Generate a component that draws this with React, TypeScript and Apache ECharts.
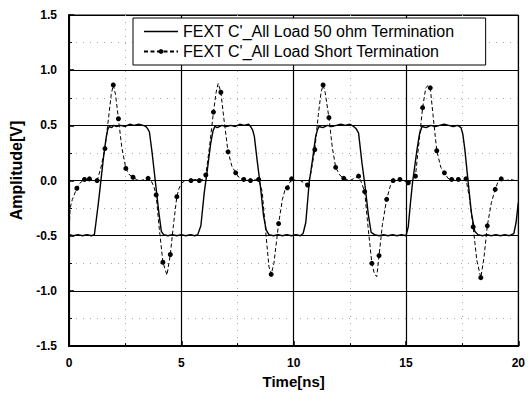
import React, { useEffect, useRef } from "react";
import * as echarts from "echarts";

const seriesNames = [
  "FEXT C'_All Load 50 ohm Termination",
  "FEXT C'_All Load Short Termination",
];

const xAxisTitle = "Time[ns]";
const yAxisTitle = "Amplitude[V]";
const xRange = [0, 20];
const xStep = 5;
const yRange = [-1.5, 1.5];
const yStep = 0.5;

// 50 ohm termination: [time ns, amplitude V]
const load50Ohm: [number, number][] = [
  [0, -0.49], [0.2, -0.5], [0.4, -0.49], [0.6, -0.5], [0.8, -0.49], [1.0, -0.5], [1.13, -0.49],
  [1.2, -0.38], [1.31, -0.2], [1.42, 0], [1.53, 0.2], [1.64, 0.37], [1.72, 0.46], [1.79, 0.49],
  [1.9, 0.48], [2.0, 0.5], [2.1, 0.49], [2.3, 0.5], [2.5, 0.49], [2.7, 0.51], [2.9, 0.5],
  [3.1, 0.51], [3.3, 0.5], [3.42, 0.49], [3.5, 0.47], [3.58, 0.44], [3.7, 0.25], [3.85, -0.02],
  [4.0, -0.29], [4.11, -0.46], [4.21, -0.49], [4.4, -0.5], [4.6, -0.49], [4.8, -0.5], [5.0, -0.49],
  [5.2, -0.5], [5.4, -0.49], [5.6, -0.5], [5.73, -0.49],
  [5.87, -0.41], [6.02, -0.11], [6.14, 0.07], [6.31, 0.34], [6.41, 0.45], [6.49, 0.49],
  [6.6, 0.48], [6.8, 0.5], [7.0, 0.49], [7.2, 0.5], [7.4, 0.49], [7.6, 0.51], [7.8, 0.5],
  [8.0, 0.51], [8.08, 0.49], [8.17, 0.46], [8.25, 0.4], [8.37, 0.19], [8.52, -0.05], [8.66, -0.32],
  [8.78, -0.45], [8.9, -0.49], [9.1, -0.5], [9.3, -0.49], [9.5, -0.5], [9.7, -0.49], [9.9, -0.5],
  [10.1, -0.49], [10.3, -0.5], [10.42, -0.48],
  [10.54, -0.38], [10.69, -0.02], [10.84, 0.19], [10.98, 0.4], [11.06, 0.46], [11.13, 0.49],
  [11.3, 0.48], [11.5, 0.5], [11.7, 0.49], [11.9, 0.5], [12.1, 0.51], [12.3, 0.5], [12.5, 0.51],
  [12.67, 0.49], [12.78, 0.47], [12.89, 0.43], [13.04, 0.16], [13.19, -0.07], [13.33, -0.32],
  [13.45, -0.47], [13.6, -0.49], [13.8, -0.5], [14.0, -0.49], [14.2, -0.5], [14.4, -0.49],
  [14.6, -0.5], [14.8, -0.49], [15.0, -0.5],
  [15.1, -0.42], [15.2, -0.2], [15.29, -0.02], [15.49, 0.28], [15.6, 0.42], [15.71, 0.49],
  [15.9, 0.48], [16.1, 0.5], [16.3, 0.49], [16.5, 0.5], [16.7, 0.51], [16.9, 0.5], [17.1, 0.49],
  [17.3, 0.5], [17.45, 0.48], [17.53, 0.42], [17.62, 0.28], [17.77, -0.02], [17.91, -0.29],
  [18.06, -0.46], [18.2, -0.49], [18.4, -0.5], [18.6, -0.49], [18.8, -0.5], [19.0, -0.49],
  [19.2, -0.5], [19.4, -0.49], [19.6, -0.5], [19.8, -0.48], [19.9, -0.38], [20, -0.2],
];

// Short termination: [time ns, amplitude V, marker shown (1) or not (0)]
const loadShort: [number, number, number][] = [
  [0, -0.48, 0], [0.05, -0.25, 0], [0.15, -0.17, 0], [0.35, -0.07, 1], [0.5, -0.02, 0],
  [0.69, 0.01, 1], [0.8, 0.0, 0], [0.91, 0.015, 1], [1.05, 0.0, 0], [1.25, 0.0, 1],
  [1.4, 0.1, 0], [1.6, 0.29, 1], [1.75, 0.55, 0], [1.88, 0.78, 0], [1.97, 0.866, 1],
  [2.07, 0.78, 0], [2.2, 0.56, 1], [2.35, 0.3, 0], [2.53, 0.11, 1], [2.7, 0.05, 0],
  [2.85, 0.03, 1], [3.0, 0.01, 0], [3.2, 0.0, 0], [3.35, 0.01, 0], [3.52, 0.02, 1],
  [3.65, 0.0, 0], [3.77, -0.05, 0], [3.88, -0.13, 1], [4.0, -0.4, 0], [4.18, -0.74, 1],
  [4.36, -0.857, 0], [4.51, -0.67, 1], [4.65, -0.4, 0], [4.8, -0.146, 1], [4.9, -0.07, 0],
  [5.02, -0.02, 0],
  [5.2, 0.0, 0], [5.43, 0.0, 1], [5.6, 0.01, 0], [5.8, 0.0, 1], [5.95, 0.01, 0],
  [6.09, 0.05, 1], [6.25, 0.3, 0], [6.43, 0.62, 1], [6.55, 0.8, 0], [6.64, 0.88, 0],
  [6.76, 0.8, 1], [6.9, 0.55, 0], [7.08, 0.26, 1], [7.25, 0.13, 0], [7.42, 0.07, 1],
  [7.6, 0.02, 0], [7.78, 0.01, 1], [8.08, 0.0, 1], [8.44, 0.01, 1], [8.6, -0.1, 0],
  [8.75, -0.45, 0], [8.9, -0.78, 0], [9.0, -0.85, 1], [9.12, -0.75, 0], [9.33, -0.39, 1],
  [9.5, -0.17, 0], [9.62, -0.08, 0], [9.72, -0.066, 1], [9.91, 0.015, 1],
  [10.1, 0.0, 0], [10.3, 0.0, 0], [10.45, -0.02, 0], [10.62, -0.04, 1], [10.75, 0.05, 0],
  [10.94, 0.28, 1], [11.1, 0.6, 0], [11.22, 0.8, 0], [11.31, 0.866, 1], [11.4, 0.8, 0],
  [11.57, 0.57, 1], [11.72, 0.3, 0], [11.87, 0.12, 1], [12.05, 0.05, 0], [12.23, 0.02, 1],
  [12.5, 0.0, 0], [12.7, 0.02, 0], [12.89, 0.04, 1], [13.02, -0.02, 0], [13.16, -0.1, 1],
  [13.3, -0.4, 0], [13.48, -0.75, 1], [13.6, -0.85, 0], [13.7, -0.87, 0], [13.8, -0.68, 1],
  [13.95, -0.4, 0], [14.14, -0.17, 1], [14.3, -0.05, 0], [14.43, 0.0, 1], [14.6, 0.0, 0],
  [14.73, 0.01, 1], [14.9, 0.0, 0], [15.1, -0.02, 1],
  [15.25, 0.0, 0], [15.42, 0.04, 1], [15.58, 0.35, 0], [15.74, 0.66, 1], [15.88, 0.84, 0],
  [15.98, 0.86, 0], [16.08, 0.84, 1], [16.2, 0.6, 0], [16.37, 0.27, 1], [16.55, 0.12, 0],
  [16.71, 0.07, 1], [16.87, 0.02, 0], [17.03, 0.01, 1], [17.2, 0.0, 0], [17.33, 0.01, 1],
  [17.5, 0.0, 0], [17.67, 0.015, 1], [17.82, -0.15, 0], [17.99, -0.42, 1], [18.15, -0.72, 0],
  [18.33, -0.88, 1], [18.47, -0.7, 0], [18.62, -0.41, 1], [18.8, -0.2, 0], [18.97, -0.08, 1],
  [19.1, -0.01, 0], [19.24, 0.015, 1], [19.45, 0.0, 0], [19.65, 0.01, 0], [19.85, 0.0, 0],
  [20, 0.0, 0],
];

const FONT = "'Liberation Sans', Arial, Helvetica, sans-serif";

export default function App() {
  const ref = useRef<HTMLDivElement>(null);

  useEffect(() => {
    if (!ref.current) return;
    const chart = echarts.init(ref.current, null, { renderer: "svg" });

    const axisCommon = {
      type: "value" as const,
      axisLine: { show: true, onZero: false, lineStyle: { color: "#000", width: 2 } },
      axisTick: { show: true, inside: true, length: 5, lineStyle: { color: "#000", width: 1.5 } },
      minorTick: { show: true, splitNumber: 2, length: 3, lineStyle: { color: "#000", width: 1 } },
      splitLine: { show: true, lineStyle: { color: "#000", width: 1.2 } },
      minorSplitLine: { show: true, lineStyle: { color: "#aaa", width: 1, type: [1, 6] } },
      nameLocation: "middle" as const,
    };

    chart.setOption({
      animation: false,
      backgroundColor: "#fff",
      textStyle: { fontFamily: FONT },
      grid: {
        left: 66,
        right: 7,
        top: 15,
        bottom: 44,
        show: true,
        borderColor: "#000",
        borderWidth: 1,
      },
      legend: {
        orient: "vertical",
        left: 133,
        top: 18,
        backgroundColor: "#fff",
        borderColor: "#000",
        borderWidth: 1,
        borderRadius: 0,
        padding: [4.5, 31, 4.5, 10],
        itemWidth: 34,
        itemHeight: 6,
        itemGap: 2,
        symbolKeepAspect: true,
        textStyle: { fontFamily: FONT, fontSize: 16, color: "#000", lineHeight: 18 },
        data: [
          { name: seriesNames[0], icon: "path://M0,0h34v1.3h-34z" },
          { name: seriesNames[1] },
        ],
        z: 10,
      },
      xAxis: {
        ...axisCommon,
        min: xRange[0],
        max: xRange[1],
        interval: xStep,
        name: xAxisTitle,
        nameGap: 27,
        nameTextStyle: { fontFamily: FONT, fontSize: 15, fontWeight: "bold", color: "#000" },
        axisLabel: {
          fontFamily: FONT,
          fontSize: 12,
          fontWeight: "bold",
          color: "#000",
          margin: 11,
          formatter: (v: number) => String(v),
        },
      },
      yAxis: {
        ...axisCommon,
        min: yRange[0],
        max: yRange[1],
        interval: yStep,
        name: yAxisTitle,
        nameGap: 45,
        nameTextStyle: {
          fontFamily: FONT,
          fontSize: 16,
          fontWeight: "bold",
          color: "#000",
          padding: [0, 0, 0, 20],
        },
        axisLabel: {
          fontFamily: FONT,
          fontSize: 12,
          fontWeight: "bold",
          color: "#000",
          margin: 12,
          formatter: (v: number) => v.toFixed(1),
        },
      },
      series: [
        {
          name: seriesNames[0],
          type: "line",
          symbol: "none",
          showSymbol: false,
          lineStyle: { color: "#000", width: 1.4 },
          itemStyle: { color: "#000" },
          data: load50Ohm,
          z: 3,
        },
        {
          name: seriesNames[1],
          type: "line",
          symbol: "circle",
          symbolSize: 5,
          showSymbol: true,
          showAllSymbol: true,
          lineStyle: { color: "#000", width: 1, type: [4, 2.5] },
          itemStyle: { color: "#000" },
          data: loadShort.map(([t, v, m]) => ({
            value: [t, v],
            symbol: m ? "circle" : "none",
          })),
          z: 4,
        },
      ],
    });

    return () => chart.dispose();
  }, []);

  return (
    <div
      ref={ref}
      style={{ position: "fixed", left: 0, top: 0, width: 528, height: 394, background: "#fff" }}
    />
  );
}
